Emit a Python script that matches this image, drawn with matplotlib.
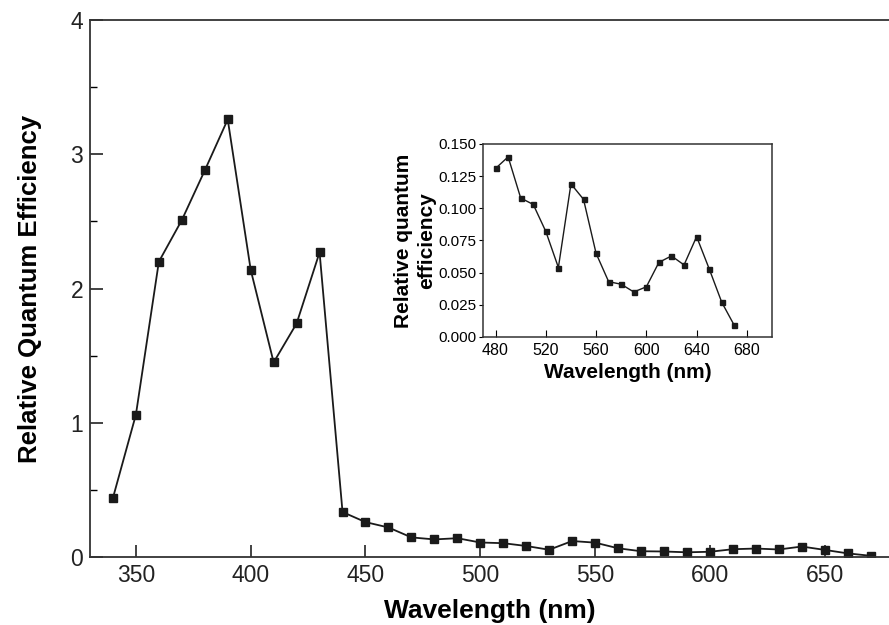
import numpy as np
import matplotlib
matplotlib.use("Agg")
import matplotlib.pyplot as plt
from matplotlib.ticker import MultipleLocator

plt.rcParams['font.family'] = ['Liberation Sans', 'DejaVu Sans']

# main spectrum
wl = [340, 350, 360, 370, 380, 390, 400, 410, 420, 430, 440, 450, 460, 470,
      480, 490, 500, 510, 520, 530, 540, 550, 560, 570, 580, 590, 600, 610,
      620, 630, 640, 650, 660, 670]
qe = [0.44, 1.06, 2.20, 2.51, 2.88, 3.26, 2.14, 1.45, 1.74, 2.27, 0.335, 0.26,
      0.22, 0.146, 0.131, 0.140, 0.108, 0.103, 0.082, 0.054, 0.119, 0.107,
      0.065, 0.043, 0.041, 0.035, 0.039, 0.058, 0.063, 0.056, 0.078, 0.053,
      0.027, 0.009]

# inset (long wavelength part)
wl_in = [480, 490, 500, 510, 520, 530, 540, 550, 560, 570, 580, 590, 600,
         610, 620, 630, 640, 650, 660, 670]
qe_in = [0.131, 0.140, 0.108, 0.103, 0.082, 0.054, 0.119, 0.107, 0.065,
         0.043, 0.041, 0.035, 0.039, 0.058, 0.063, 0.056, 0.078, 0.053,
         0.027, 0.009]

col = '#1a1a1a'
fig = plt.figure(figsize=(8.89, 6.25), dpi=100)

ax = fig.add_axes([0.1012, 0.1088, 0.8988, 0.859])
ax.plot(wl, qe, color=col, lw=1.3, marker='s', ms=5.8, mfc=col, mec=col)
ax.set_xlim(330, 678)
ax.set_ylim(0, 4)
ax.set_xticks([350, 400, 450, 500, 550, 600, 650])
ax.set_yticks([0, 1, 2, 3, 4])
ax.yaxis.set_minor_locator(MultipleLocator(0.5))
ax.spines['right'].set_visible(False)
for s in ax.spines.values():
    s.set_linewidth(1.3)
    s.set_color('#333333')
ax.tick_params(direction='in', length=9, width=1.2, labelsize=16.5, pad=5, colors='#222222')
ax.tick_params(which='minor', direction='in', length=5, width=1.0)
ax.set_xlabel('Wavelength (nm)', fontsize=19, fontweight='bold', labelpad=9)
ax.set_ylabel('Relative Quantum Efficiency', fontsize=18.5, fontweight='bold', labelpad=20)

ins = fig.add_axes([0.5433, 0.4608, 0.3251, 0.3088])
ins.plot(wl_in, qe_in, color=col, lw=1.0, marker='s', ms=3.6, mfc=col, mec=col)
ins.set_xlim(470, 700)
ins.set_ylim(0, 0.15)
ins.set_xticks([480, 520, 560, 600, 640, 680])
ins.set_yticks(np.arange(0, 0.151, 0.025))
ins.yaxis.set_major_formatter(matplotlib.ticker.FormatStrFormatter('%.3f'))
for s in ins.spines.values():
    s.set_linewidth(1.1)
    s.set_color('#333333')
ins.tick_params(axis='x', direction='in', length=5, labelsize=11.5, pad=4)
ins.tick_params(axis='y', direction='out', length=3, labelsize=11, pad=2)
ins.set_xlabel('Wavelength (nm)', fontsize=15, fontweight='bold', labelpad=4)
ins.set_ylabel('Relative quantum\nefficiency', fontsize=15, fontweight='bold',
               linespacing=1.3, labelpad=1)

fig.savefig('out.png', dpi=100)
